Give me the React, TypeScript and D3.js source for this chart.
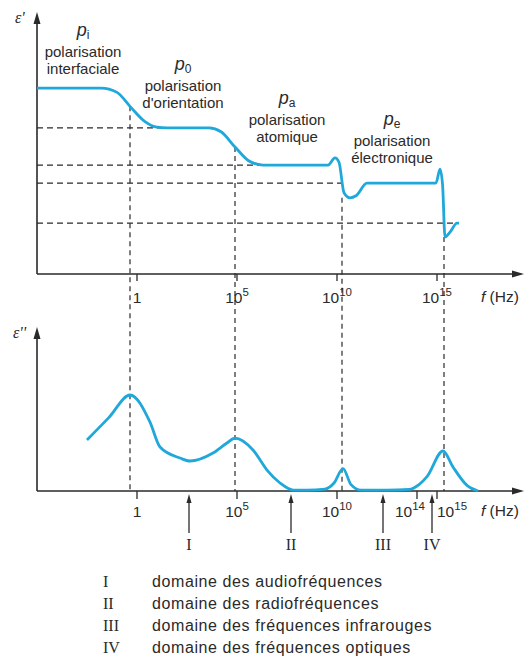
import * as d3 from "d3";
import React from "react";

// ε' (real part) : log10(f) and value
const epsRealLogF = [-5, -1.8, -1.0, -0.35, 0.4, 1.0, 1.5, 3.6, 4.2, 4.9, 5.6, 6.3, 9.55, 9.9, 10.1, 10.35, 10.65, 10.95, 11.5, 14.95, 15.15, 15.28, 15.4, 15.65, 16.0, 16.1];
const epsRealVal = [7.32, 7.32, 7.15, 6.6, 6.0, 5.78, 5.75, 5.75, 5.6, 5.0, 4.45, 4.29, 4.29, 4.57, 4.4, 3.2, 3.0, 3.08, 3.58, 3.58, 4.13, 3.5, 1.46, 1.65, 2.0, 2.0];

// ε'' (imaginary part) : log10(f) and value
const epsImagLogF = [-2.5, -1.4, -0.35, 0.65, 1.15, 2.15, 2.65, 3.8, 4.5, 4.9, 5.8, 6.5, 7.15, 7.8, 8.5, 9.4, 9.85, 10.3, 10.7, 11.2, 12.5, 13.6, 14.1, 14.5, 15.3, 15.8, 16.5, 17.05];
const epsImagVal = [3.19, 4.6, 6.0, 4.3, 2.75, 2.06, 1.875, 2.375, 3.0, 3.3, 2.56, 1.31, 0.5, 0.06, 0.05, 0.12, 0.5, 1.4, 0.4, 0.06, 0.05, 0.1, 0.4, 0.9, 2.5, 1.5, 0.35, 0.0];

// resonance / relaxation frequencies (dashed verticals)
const resonanceLogF = [-0.35, 4.9, 10.25, 15.35];
const resonanceEps = [6.6, 5.0, 3.0, 1.46];

// plateau levels of ε' (dashed horizontals)
const plateauEps = [5.75, 4.29, 3.58, 2.0];
const plateauEndLogF = [1.3, 6.2, 10.35, 16.1];

const topTicks = [0, 5, 10, 15];
const bottomTicks = [0, 5, 10, 14, 15];

// polarisation mechanisms
const mechSub = ["i", "0", "a", "e"];
const mechLine1 = ["polarisation", "polarisation", "polarisation", "polarisation"];
const mechLine2 = ["interfaciale", "d'orientation", "atomique", "électronique"];
const mechLogF = [-2.7, 2.3, 7.5, 12.75];

// frequency domains
const domainLogF = [2.6, 7.7, 12.3, 14.75];
const domainNames = ["I", "II", "III", "IV"];
const domainLabels = [
  "domaine des audiofréquences",
  "domaine des radiofréquences",
  "domaine des fréquences infrarouges",
  "domaine des fréquences optiques",
];

const SANS = "'Liberation Sans', Arial, sans-serif";
const SERIF = "'Liberation Serif', 'Times New Roman', serif";
const CURVE = "#1fa8d9";
const INK = "#2a2a2a";

const TickLabel = ({ v, x, y, anchor = "middle" }: { v: number; x: number; y: number; anchor?: string }) => {
  if (v === 0)
    return (
      <text x={x} y={y} textAnchor="middle">
        1
      </text>
    );
  return (
    <text x={x} y={y} textAnchor={anchor}>
      10
      <tspan dy={-7} fontSize={11.5}>
        {v}
      </tspan>
    </text>
  );
};

const App = () => {
  const width = 528;
  const height = 664;

  const x = d3.scaleLinear().domain([-5, 19.35]).range([37, 524]);
  const yTop = d3.scaleLinear().domain([0, 10]).range([274, 20]);
  const yBot = d3.scaleLinear().domain([0, 10]).range([491, 331]);

  const realPts = epsRealLogF.map((f, i) => [f, epsRealVal[i]] as [number, number]);
  const imagPts = epsImagLogF.map((f, i) => [f, epsImagVal[i]] as [number, number]);

  const lineTop = d3
    .line<[number, number]>()
    .x((d) => x(d[0]))
    .y((d) => yTop(d[1]))
    .curve(d3.curveMonotoneX);
  const lineBot = d3
    .line<[number, number]>()
    .x((d) => x(d[0]))
    .y((d) => yBot(d[1]))
    .curve(d3.curveMonotoneX);

  const x0 = x(-5);
  const xEnd = x(19.35);

  const axisArrowUp = (cx: number, tip: number) =>
    `M${cx},${tip} L${cx - 3.5},${tip + 12} L${cx + 3.5},${tip + 12} Z`;
  const axisArrowRight = (tip: number, cy: number) =>
    `M${tip},${cy} L${tip - 12},${cy - 3.5} L${tip - 12},${cy + 3.5} Z`;

  const mechTitleY = [38, 72, 106, 127];

  return (
    <svg
      width={width}
      height={height}
      style={{ position: "absolute", left: 0, top: 0, background: "#fff" }}
      fontFamily={SANS}
      fill={INK}
    >
      {/* dashed plateau levels */}
      {plateauEps.map((v, i) => (
        <line
          key={"h" + i}
          x1={x0}
          x2={x(plateauEndLogF[i])}
          y1={yTop(v)}
          y2={yTop(v)}
          stroke={INK}
          strokeWidth={1.3}
          strokeDasharray="6,4"
        />
      ))}
      {/* dashed resonance verticals */}
      {resonanceLogF.map((f, i) => (
        <line
          key={"v" + i}
          x1={x(f)}
          x2={x(f)}
          y1={yTop(resonanceEps[i])}
          y2={yBot(0)}
          stroke={INK}
          strokeWidth={1.2}
          strokeDasharray="5,4"
        />
      ))}

      {/* top axes */}
      <line x1={x0} x2={x0} y1={yTop(0)} y2={yTop(10) + 4} stroke={INK} strokeWidth={1.6} />
      <path d={axisArrowUp(x0, 12)} fill={INK} />
      <line x1={x0} x2={xEnd - 6} y1={yTop(0)} y2={yTop(0)} stroke={INK} strokeWidth={1.6} />
      <path d={axisArrowRight(xEnd, yTop(0))} fill={INK} />
      {topTicks.map((t) => (
        <g key={"tt" + t}>
          <line x1={x(t)} x2={x(t)} y1={yTop(0)} y2={yTop(0) + 7} stroke={INK} strokeWidth={1.3} />
          <g fontSize={15.5}>
            <TickLabel v={t} x={x(t)} y={303} />
          </g>
        </g>
      ))}
      <text x={481} y={302} fontSize={15.5}>
        <tspan fontStyle="italic">f</tspan> (Hz)
      </text>
      <text x={15} y={23} fontSize={16} fontFamily={SERIF} fontStyle="italic">
        ε'
      </text>

      {/* bottom axes */}
      <line x1={x0} x2={x0} y1={yBot(0)} y2={yBot(10) + 4} stroke={INK} strokeWidth={1.6} />
      <path d={axisArrowUp(x0, 327)} fill={INK} />
      <line x1={x0} x2={xEnd - 6} y1={yBot(0)} y2={yBot(0)} stroke={INK} strokeWidth={1.6} />
      <path d={axisArrowRight(xEnd, yBot(0))} fill={INK} />
      {bottomTicks.map((t) => (
        <g key={"bt" + t}>
          <line x1={x(t)} x2={x(t)} y1={yBot(0)} y2={yBot(0) + 8} stroke={INK} strokeWidth={1.3} />
          <g fontSize={15.5}>
            {t === 14 ? (
              <TickLabel v={t} x={x(t) + 8} y={517} anchor="end" />
            ) : t === 15 ? (
              <TickLabel v={t} x={x(t)} y={517} anchor="start" />
            ) : (
              <TickLabel v={t} x={x(t)} y={517} />
            )}
          </g>
        </g>
      ))}
      <text x={481} y={516} fontSize={15.5}>
        <tspan fontStyle="italic">f</tspan> (Hz)
      </text>
      <text x={13} y={338} fontSize={16} fontFamily={SERIF} fontStyle="italic">
        ε''
      </text>

      {/* curves */}
      <path d={lineTop(realPts) ?? ""} fill="none" stroke={CURVE} strokeWidth={2.8} strokeLinejoin="round" />
      <path d={lineBot(imagPts) ?? ""} fill="none" stroke={CURVE} strokeWidth={2.8} strokeLinejoin="round" />

      {/* mechanism labels */}
      {mechSub.map((s, i) => (
        <g key={"m" + i} textAnchor="middle">
          <text x={x(mechLogF[i])} y={mechTitleY[i] - 2} fontSize={18} fontStyle="italic">
            p
            <tspan dy={3} fontSize={12} fontStyle="normal">
              {s}
            </tspan>
          </text>
          <text x={x(mechLogF[i])} y={mechTitleY[i] + 19} fontSize={15}>
            {mechLine1[i]}
          </text>
          <text x={x(mechLogF[i])} y={mechTitleY[i] + 36} fontSize={15}>
            {mechLine2[i]}
          </text>
        </g>
      ))}

      {/* frequency domain arrows */}
      {domainLogF.map((f, i) => (
        <g key={"d" + i}>
          <line x1={x(f)} x2={x(f)} y1={533} y2={500} stroke={INK} strokeWidth={1.3} />
          <path d={`M${x(f)},${yBot(0) + 3} L${x(f) - 2.5},${yBot(0) + 12} L${x(f) + 2.5},${yBot(0) + 12} Z`} fill={INK} />
          <text x={x(f)} y={550} textAnchor="middle" fontFamily={SERIF} fontSize={16}>
            {domainNames[i]}
          </text>
        </g>
      ))}

      {/* legend */}
      {domainNames.map((n, i) => (
        <g key={"l" + i}>
          <text x={103} y={587 + i * 22} fontFamily={SERIF} fontSize={16}>
            {n}
          </text>
          <text x={152} y={587 + i * 22} fontSize={16} letterSpacing={0.6}>
            {domainLabels[i]}
          </text>
        </g>
      ))}
    </svg>
  );
};

export default App;
